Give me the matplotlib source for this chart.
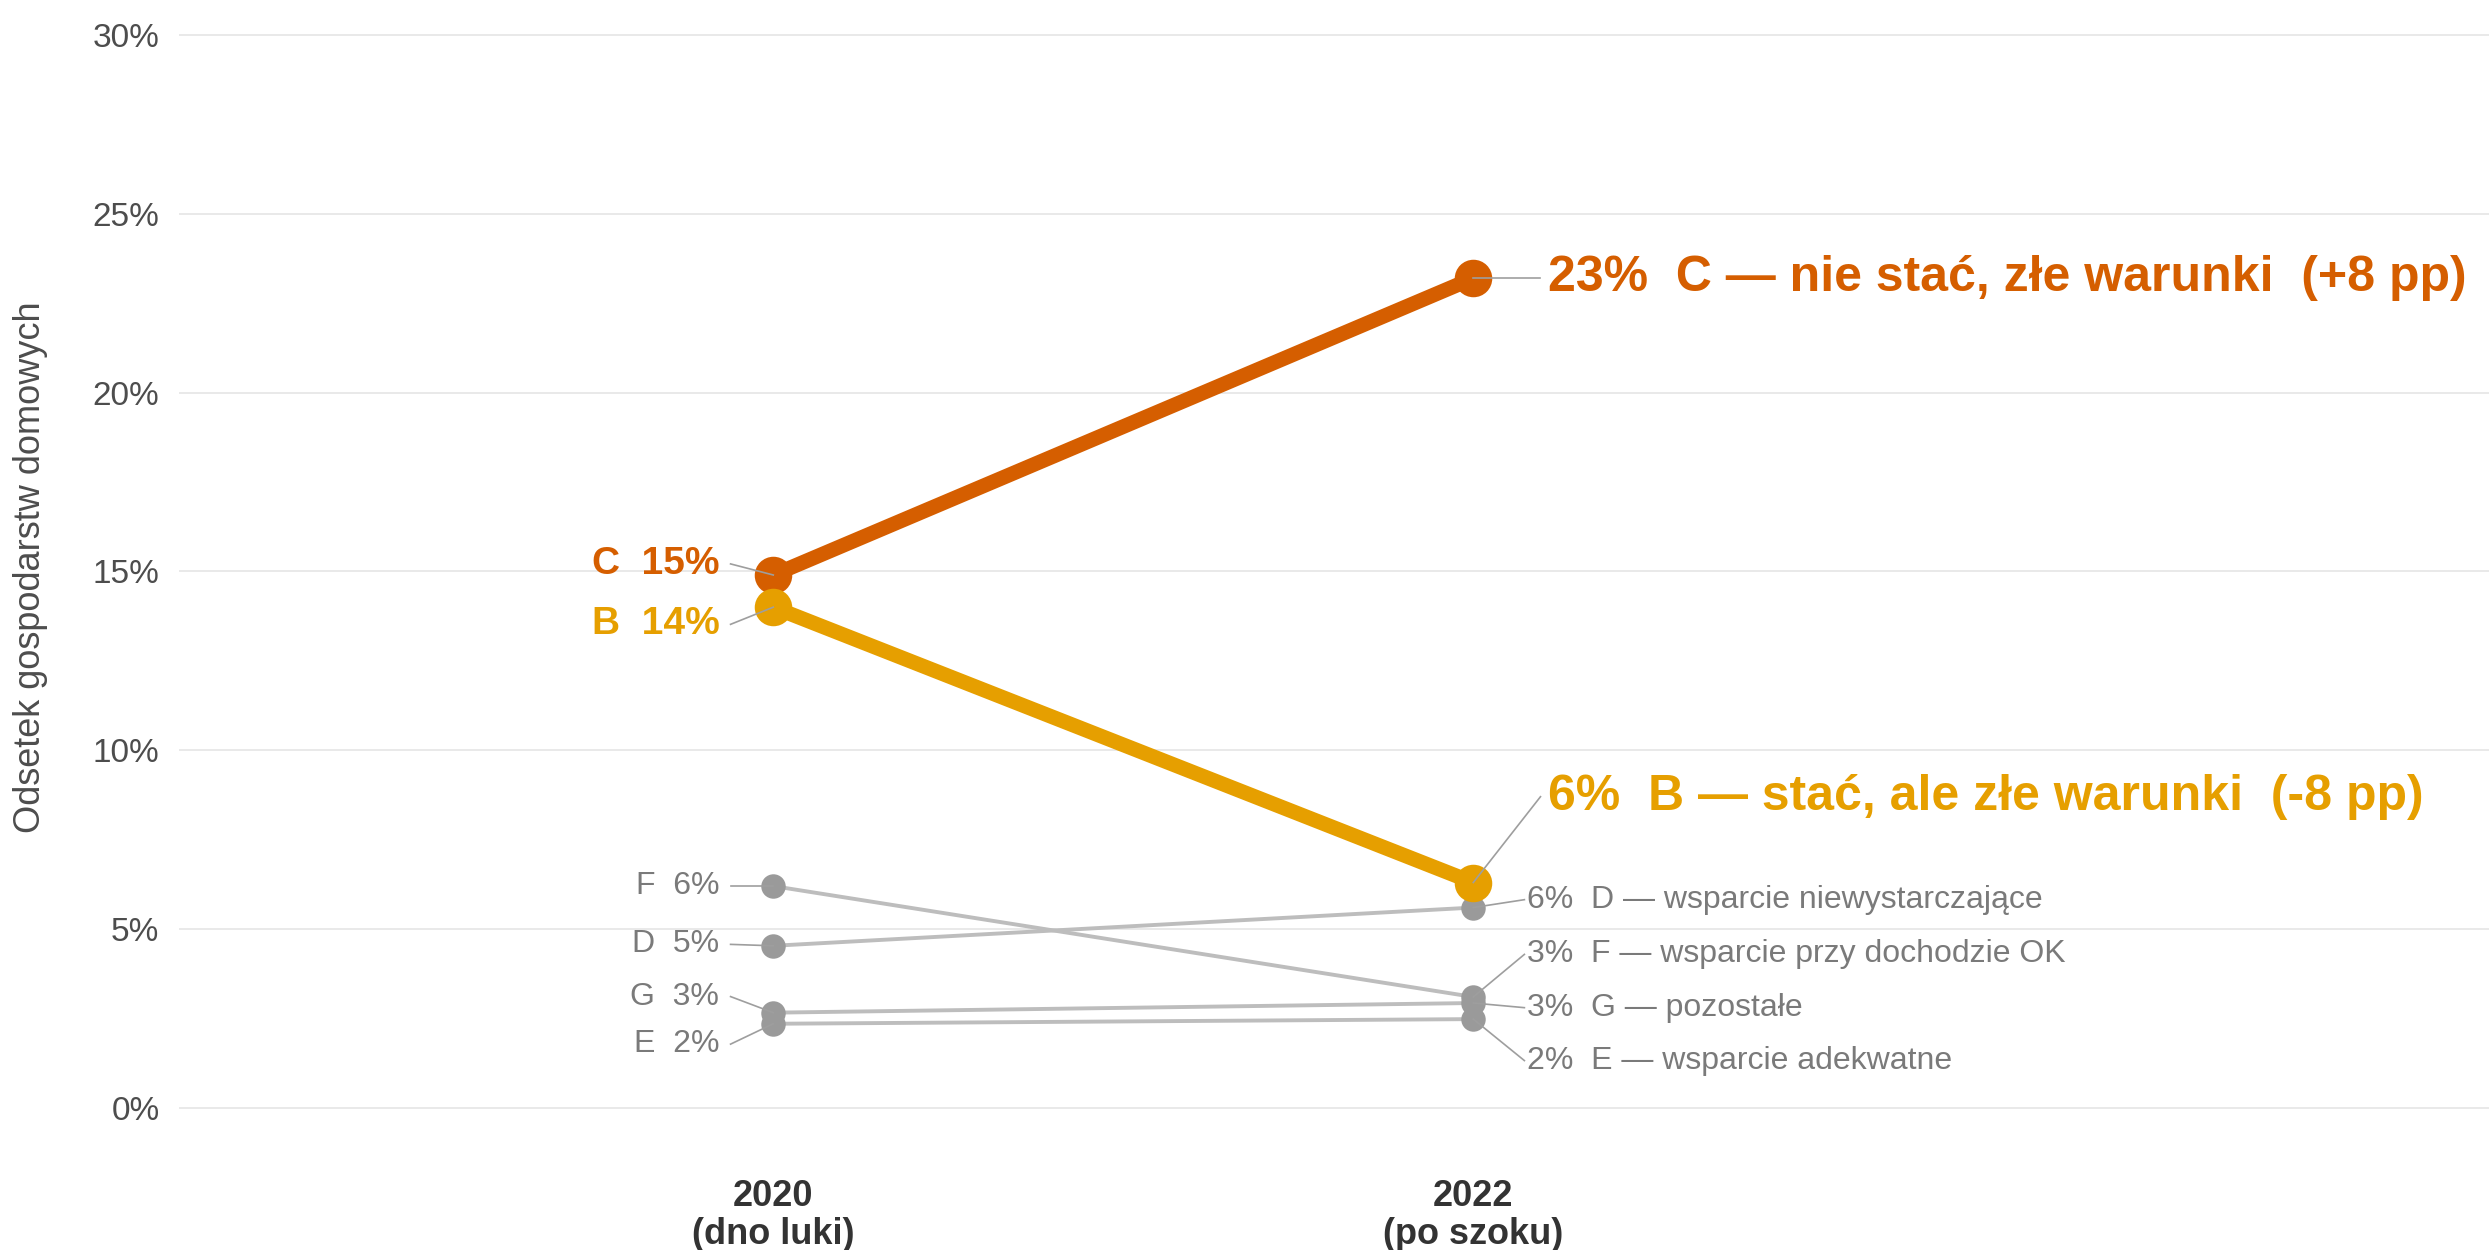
import matplotlib.pyplot as plt

# Data: share of households by group, two periods
periods = ["2020\n(dno luki)", "2022\n(po szoku)"]
groups = ["C", "B", "D", "F", "G", "E"]
descriptions = ["nie stać, złe warunki", "stać, ale złe warunki",
                "wsparcie niewystarczające", "wsparcie przy dochodzie OK",
                "pozostałe", "wsparcie adekwatne"]
share_2020 = [14.9, 14.0, 4.53, 6.2, 2.66, 2.35]
share_2022 = [23.2, 6.3, 5.6, 3.1, 2.93, 2.48]
highlight = ["C", "B"]

# Layout: label nudges (pp) so texts do not overlap
nudge_2020 = [0.31, -0.48, 0.04, 0.0, 0.45, -0.57]
nudge_2022 = [0.0, 2.4, 0.22, 1.19, -0.13, -1.16]

colors = {"C": "#D55E00", "B": "#E69F00"}
grey_line = "#BDBDBD"
grey_dot = "#9A9A9A"
grey_text = "#7A7A7A"
leader = "#9E9E9E"

plt.rcParams['font.family'] = ['Liberation Sans', 'DejaVu Sans']

fig = plt.figure(figsize=(12.445, 6.25), dpi=200)
ax = fig.add_axes([0.0719, 0.068, 0.9281, 0.9154])

x0, x1 = 0, 1
for i, g in enumerate(groups):
    v0, v1 = share_2020[i], share_2022[i]
    hi = g in highlight
    if hi:
        c = colors[g]
        ax.plot([x0, x1], [v0, v1], color=c, lw=5.3, zorder=4,
                solid_capstyle='round')
        ax.plot([x0, x1], [v0, v1], 'o', color=c, ms=12.5, zorder=5)
    else:
        ax.plot([x0, x1], [v0, v1], color=grey_line, lw=1.4, zorder=2)
        ax.plot([x0, x1], [v0, v1], 'o', color=grey_dot, ms=7.8, zorder=3)

    # left labels
    ly = v0 + nudge_2020[i]
    ax.plot([x0, -0.061], [v0, ly], color=leader, lw=0.6, zorder=6)
    ax.text(-0.077, ly, f"{g}  {round(v0)}%",
            ha='right', va='center',
            fontsize=14 if hi else 11.5,
            fontweight='bold' if hi else 'normal',
            color=colors[g] if hi else grey_text)

    # right labels
    ry = v1 + nudge_2022[i]
    if hi:
        diff = v1 - v0
        ax.plot([x1, 1.096], [v1, ry], color=leader, lw=0.6, zorder=6)
        ax.text(1.107, ry,
                f"{round(v1)}%  {g} — {descriptions[i]}  ({diff:+.0f} pp)",
                ha='left', va='center', fontsize=18, fontweight='bold',
                color=colors[g])
    else:
        ax.plot([x1, 1.073], [v1, ry], color=leader, lw=0.6, zorder=6)
        ax.text(1.077, ry, f"{round(v1)}%  {g} — {descriptions[i]}",
                ha='left', va='center', fontsize=11.5, color=grey_text)

ax.set_xlim(-0.849, 2.451)
ax.set_ylim(-1.6, 30.4)
ax.set_yticks([0, 5, 10, 15, 20, 25, 30])
ax.set_yticklabels([f"{t}%" for t in [0, 5, 10, 15, 20, 25, 30]])
ax.set_xticks([x0, x1])
ax.set_xticklabels(periods, fontweight='bold', linespacing=1.12)
ax.tick_params(axis='y', length=0, pad=7, labelsize=12, labelcolor='#4D4D4D')
ax.tick_params(axis='x', length=0, pad=5, labelsize=13, labelcolor='#333333')
ax.grid(axis='y', color='#E5E5E5', lw=0.6)
ax.set_axisbelow(True)
for s in ax.spines.values():
    s.set_visible(False)

ax.set_ylabel("Odsetek gospodarstw domowych", fontsize=13, color='#4D4D4D')
ax.yaxis.set_label_coords(-0.0567, 0.5226)

fig.savefig("out.png", dpi=200)
